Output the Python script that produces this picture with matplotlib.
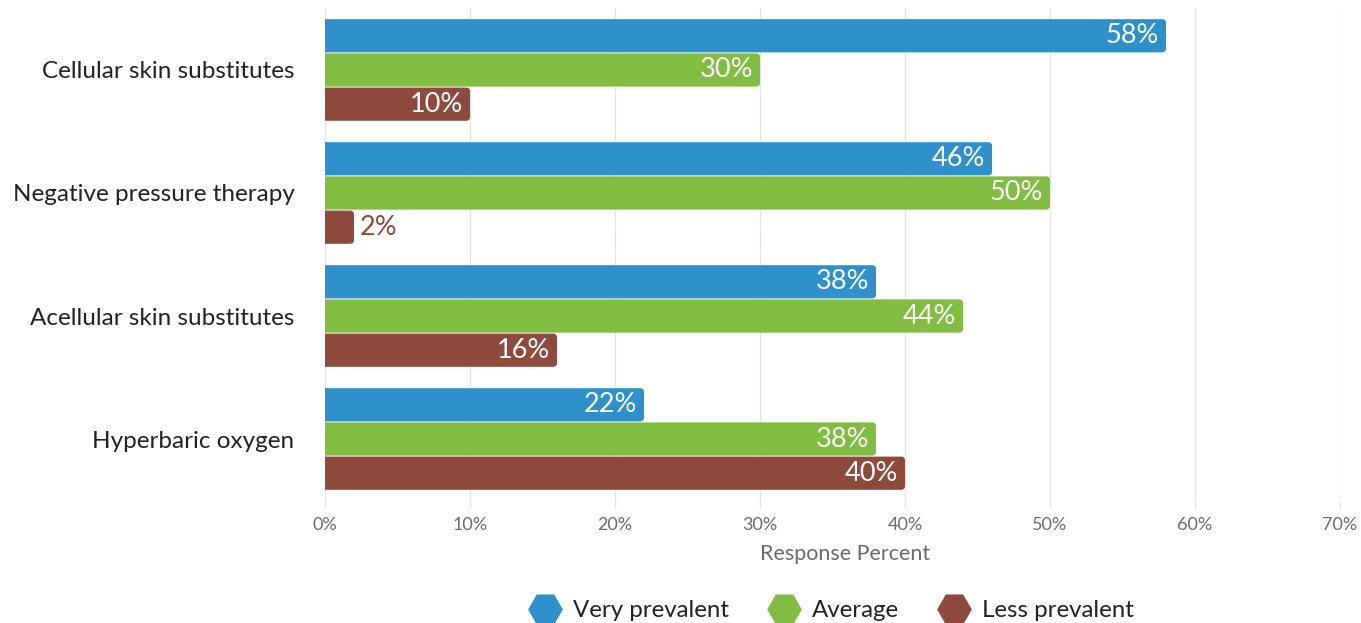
import matplotlib
matplotlib.use("Agg")
import matplotlib.pyplot as plt
from matplotlib.patches import FancyBboxPatch
from matplotlib.lines import Line2D

categories = ["Cellular skin substitutes", "Negative pressure therapy",
              "Acellular skin substitutes", "Hyperbaric oxygen"]
series_names = ["Very prevalent", "Average", "Less prevalent"]
very_prevalent = [58, 46, 38, 22]
average = [30, 50, 44, 38]
less_prevalent = [10, 2, 16, 40]
series_values = [very_prevalent, average, less_prevalent]
colors = ["#2e91cb", "#81bd41", "#8e4a3c"]
x_ticks = [0, 10, 20, 30, 40, 50, 60, 70]
x_tick_labels = [f"{t}%" for t in x_ticks]

plt.rcParams["font.family"] = ["Lato", "DejaVu Sans"]

fig = plt.figure(figsize=(13.61, 6.23), dpi=100)
ax = fig.add_axes([0.2388, 0.1966, 0.7458, 0.7898])

xmax = 70
ax.set_xlim(0, xmax)
ax.set_ylim(len(categories) - 0.5, -0.5)

bar_h = 0.278
offsets = [-bar_h, 0, bar_h]

# rounding of the bar ends, corrected for the unequal axis scales
ax_w_px = 0.7458 * 1361
ax_h_px = 0.7898 * 623
x_per_px = xmax / ax_w_px
y_per_px = len(categories) / ax_h_px
radius_px = 4
r = radius_px * x_per_px
aspect = y_per_px / x_per_px

for si, (vals, col) in enumerate(zip(series_values, colors)):
    for ci, v in enumerate(vals):
        yc = ci + offsets[si]
        patch = FancyBboxPatch((-r * 2, yc - bar_h / 2 + 0.004), v + r * 2, bar_h - 0.008,
                               boxstyle=f"round,pad=0,rounding_size={r}",
                               mutation_aspect=aspect, facecolor=col,
                               edgecolor="none", zorder=3, clip_on=True)
        ax.add_patch(patch)
        label = f"{v}%"
        if v >= 5:
            ax.text(v - 7 * x_per_px, yc, label, ha="right", va="center",
                    color="white", fontsize=19.5, zorder=4)
        else:
            ax.text(v + 6 * x_per_px, yc, label, ha="left", va="center",
                    color=col, fontsize=19.5, zorder=4)

ax.set_yticks(range(len(categories)))
ax.set_yticklabels(categories, fontsize=17.5, color="#222222")
ax.tick_params(axis="y", length=0, pad=22)

ax.set_xticks(x_ticks)
ax.set_xticklabels(x_tick_labels, fontsize=13, color="#6b6b6b")
ax.tick_params(axis="x", length=6, color="#e3e3e3", pad=6)
ax.grid(axis="x", color="#e3e3e3", linewidth=1, zorder=0)
ax.set_axisbelow(True)
for s in ax.spines.values():
    s.set_visible(False)

ax.set_xlabel("Response Percent", fontsize=15.5, color="#6b6b6b")
ax.xaxis.set_label_coords(0.512, -0.088)

handles = [Line2D([], [], marker="H", linestyle="none", markersize=25,
                  markerfacecolor=c, markeredgecolor="none") for c in colors]
fig.legend(handles, series_names, loc="center", bbox_to_anchor=(0.608, 0.02),
           ncol=3, frameon=False, fontsize=17.3, handletextpad=0.15,
           columnspacing=1.3, labelcolor="#222222")

fig.savefig("out.png", dpi=100)
